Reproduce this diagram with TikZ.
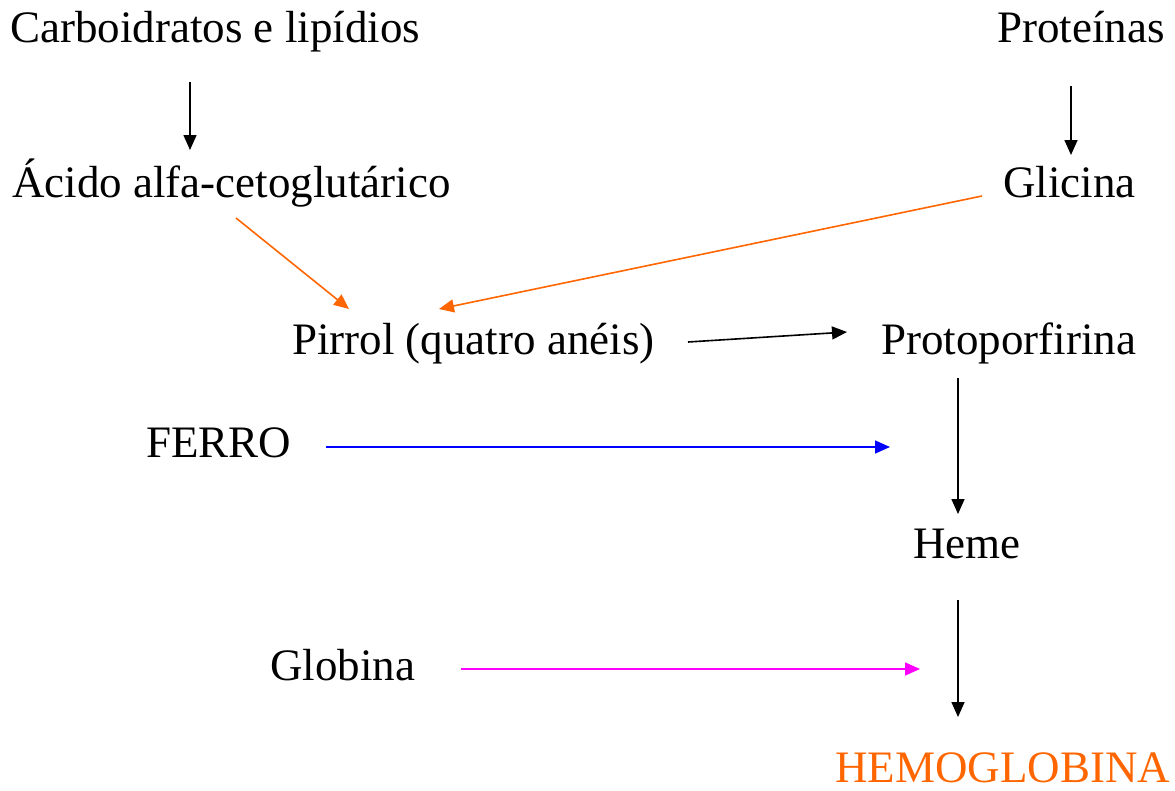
\documentclass[tikz,border=0pt]{standalone}
\usepackage{fontspec}
\setmainfont{Liberation Serif}
\usetikzlibrary{arrows.meta}
\definecolor{orng}{HTML}{FF6600}
\definecolor{blu}{HTML}{0000FF}
\definecolor{mag}{HTML}{FF00FF}
\tikzset{
  lbl/.style={anchor=base west, inner sep=0pt, font=\fontsize{45}{52}\selectfont},
  arr/.style={line width=1.6pt, -{Triangle[length=15pt,width=13pt]}},
}
\begin{document}
\begin{tikzpicture}[x=1pt,y=-1pt]
\useasboundingbox (0,0) rectangle (1175,790);
% labels
\node[lbl] (carb) at (10,42) {Carboidratos e lipídios};
\node[lbl] (prot) at (997,42) {Proteínas};
\node[lbl] (acid) at (12,197) {Ácido alfa-cetoglutárico};
\node[lbl] (glic) at (1003,197) {Glicina};
\node[lbl] (pirr) at (292,354) {Pirrol (quatro anéis)};
\node[lbl] (ppor) at (881,354) {Protoporfirina};
\node[lbl] (ferro) at (146,457) {FERRO};
\node[lbl] (heme) at (913,558) {Heme};
\node[lbl] (glob) at (270,680) {Globina};
\node[lbl, text=orng] (hemo) at (835,782) {HEMOGLOBINA};
% arrow end points
\coordinate (c1s) at (190,82);   \coordinate (c1e) at (190,150);
\coordinate (p1s) at (1071,86);  \coordinate (p1e) at (1071,155);
\coordinate (a1s) at (236,218);  \coordinate (a1e) at (349,309);
\coordinate (g1s) at (982,196);  \coordinate (g1e) at (439,309);
\coordinate (r1s) at (688,342);  \coordinate (r1e) at (847,332);
\coordinate (f1s) at (326,447);  \coordinate (f1e) at (890,447);
\coordinate (h1s) at (958,378);  \coordinate (h1e) at (958,514);
\coordinate (h2s) at (958,600);  \coordinate (h2e) at (958,717);
\coordinate (gl1s) at (461,669); \coordinate (gl1e) at (920,669);
% connectors
\draw[arr] (c1s) -- (c1e);
\draw[arr] (p1s) -- (p1e);
\draw[arr, orng] (a1s) -- (a1e);
\draw[arr, orng] (g1s) -- (g1e);
\draw[arr] (r1s) -- (r1e);
\draw[arr, blu] (f1s) -- (f1e);
\draw[arr] (h1s) -- (h1e);
\draw[arr] (h2s) -- (h2e);
\draw[arr, mag] (gl1s) -- (gl1e);
\end{tikzpicture}
\end{document}
